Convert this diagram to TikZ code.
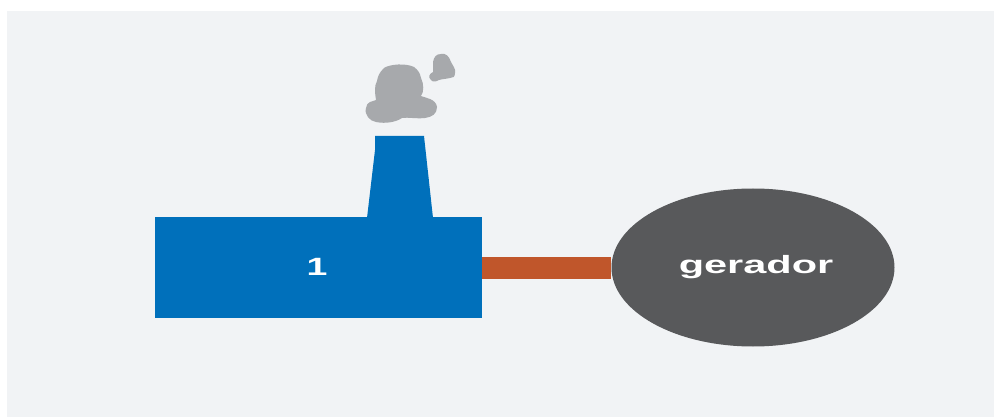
\documentclass[tikz,border=0pt]{standalone}
\usepackage{fontspec}
\setmainfont{Liberation Sans}
\usetikzlibrary{shapes.geometric}
\definecolor{panelbg}{HTML}{F1F3F5}
\definecolor{fblue}{HTML}{0070BB}
\definecolor{smoke}{HTML}{A7A9AC}
\definecolor{genfill}{HTML}{58595B}
\definecolor{linkc}{HTML}{C0562B}
\tikzset{
  labeltext/.style={text=white,font=\fontsize{25}{25}\selectfont\bfseries,inner sep=0pt},
  factorybox/.style={rectangle,fill=fblue,minimum width=327pt,minimum height=101pt,inner sep=0pt},
  genshape/.style={ellipse,fill=genfill,minimum width=283pt,minimum height=158pt,inner sep=0pt},
  linkline/.style={draw=linkc,line width=22pt},
  smokeshape/.style={fill=smoke}
}
\begin{document}
\begin{tikzpicture}[x=1pt,y=-1pt]
\useasboundingbox (0,0) rectangle (994,417);
\fill[white] (0,0) rectangle (994,417);
\fill[panelbg] (7,11) rectangle (994,417);
% chimney
\fill[fblue] (375,136) -- (424,136) -- (433,218) -- (367,218) -- (375,150) -- cycle;
% smoke
\fill[smokeshape] (370,102) .. controls (372,101) and (374,101) .. (376,100)
  .. controls (375,94) and (374,86) .. (377,81)
  .. controls (378,76) and (379,73) .. (384,68)
  .. controls (390,64) and (406,63) .. (414,67)
  .. controls (418,70) and (420,73) .. (421,78)
  .. controls (424,84) and (424,92) .. (421,96)
  .. controls (426,98) and (436,99) .. (437,107)
  .. controls (437,114) and (432,117) .. (425,118)
  .. controls (416,119) and (408,117) .. (402,118)
  .. controls (396,122) and (386,124) .. (376,122)
  .. controls (370,121) and (364,115) .. (366,108)
  .. controls (366,105) and (368,103) .. (370,102) -- cycle;
\fill[smokeshape] (433,62) .. controls (434,57) and (436,54) .. (441,54)
  .. controls (446,53) and (449,56) .. (451,62)
  .. controls (453,66) and (456,69) .. (455,73)
  .. controls (455,77) and (453,78) .. (450,78)
  .. controls (446,79) and (442,79) .. (439,80)
  .. controls (436,82) and (432,82) .. (431,80)
  .. controls (428,77) and (429,74) .. (433,72) -- cycle;
% nodes
\node[factorybox] (factory) at (318.5,267.5) {};
\node[genshape] (gen) at (753,267.5) {};
\draw[linkline] (factory.east) -- (gen.west);
\node[labeltext] (one) at (317,267) {\scalebox{1.5}[1]{1}};
\node[labeltext,anchor=base] (gentext) at (756,273) {\scalebox{1.66}[1]{gerador}};
\end{tikzpicture}
\end{document}
